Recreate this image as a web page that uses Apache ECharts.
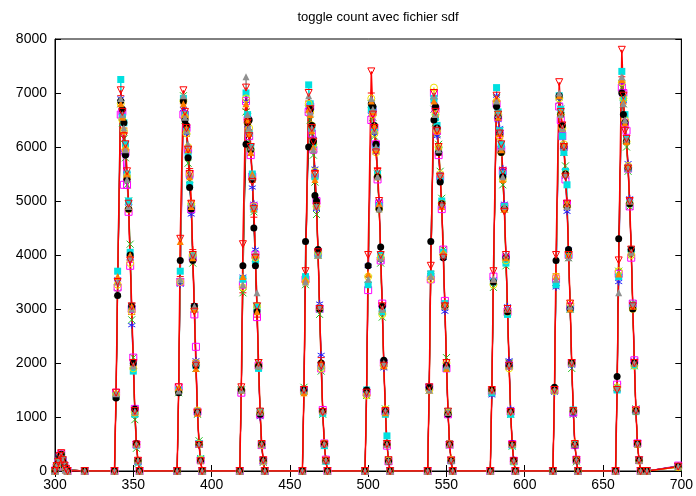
<!DOCTYPE html>
<html>
<head>
<meta charset="utf-8">
<script src="https://cdn.jsdelivr.net/npm/echarts@6/dist/echarts.min.js"></script>
<style>
  html, body { margin: 0; padding: 0; background: #fff; }
  #chart { width: 696px; height: 496px; }
</style>
</head>
<body>
<div id="chart"></div>
<script>
// x positions
const headX = [300, 301, 302, 303, 304, 305, 306, 307, 308, 319]
const peakStarts = [339, 379, 419, 459, 499, 539, 579, 619, 659]
const peakOffsets = [-1, 0, 1, 3, 4, 5, 6, 7, 8, 9, 10, 11, 12, 13, 14, 15]
const tailX = [678, 698]

// toggle counts, one block per run
const s1Head = [0, 90, 160, 260, 310, 190, 80, 30, 0, 0]
const s1Peaks = [
  [0,1400,3450,6950,6550,6350,5950,5400,4800,3900,2900,1950,1050,480,180,0],
  [0,1500,3600,6800,6650,6200,5900,5600,5000,4100,3100,2050,1150,520,210,0],
  [0,1550,3300,6700,6450,6250,6050,5350,4700,3800,2850,1900,1000,450,170,0],
  [0,1480,3550,6850,6700,6400,6000,5550,4950,4050,3050,2100,1150,540,220,0],
  [0,1420,3400,7000,6750,6350,6100,5600,4850,3950,2950,1950,1080,500,190,0],
  [0,1600,3700,6900,6500,6250,5850,5450,5000,4100,3000,2000,1100,470,170,0],
  [0,1500,3500,6750,6550,6150,5900,5500,4900,3900,2900,2050,1120,510,200,0],
  [0,1450,3650,6950,6600,6300,6050,5600,5000,4000,3100,2000,1150,530,220,0],
  [0,1500,3600,7300,6900,6500,6100,5650,5050,4100,3050,2050,1100,490,190,0]
]
const s1Tail = [0, 80]

const s2Head = [0, 60, 140, 230, 280, 170, 90, 20, 0, 0]
const s2Peaks = [
  [0,1380,3300,6800,6450,6150,5800,5300,5000,4200,2800,2100,950,420,140,0],
  [0,1450,3500,6950,6500,6300,5700,5400,4850,3850,3000,1900,1050,560,230,0],
  [0,1500,3300,6650,6550,6100,5900,5450,4800,3950,3050,2000,1100,480,160,0],
  [0,1550,3450,6700,6500,6250,5850,5350,4750,4000,2900,1850,1050,470,190,0],
  [0,1400,3550,6800,6550,6200,6000,5500,4900,3850,2850,1950,1150,500,180,0],
  [0,1500,3600,6700,6450,6250,6050,5550,5050,4100,3100,2100,1100,480,210,0],
  [0,1450,3400,6900,6600,6300,5950,5300,4850,3800,2950,2000,1050,460,190,0],
  [0,1500,3500,6850,6700,6200,5900,5650,4950,3950,3000,1900,1050,490,170,0],
  [0,1550,3700,7100,6800,6400,6000,5550,4900,4000,3100,1950,1150,510,200,0]
]
const s2Tail = [0, 70]

const s3Head = [0, 80, 150, 240, 300, 200, 70, 40, 0, 0]
const s3Peaks = [
  [0,1420,3550,6900,6600,5900,5850,5500,4950,3950,2700,1950,1100,510,190,0],
  [0,1480,3450,6700,6550,6250,5950,5450,4750,4000,3050,2050,1050,470,210,0],
  [0,1500,3600,6850,6400,6300,6000,5250,4950,4100,3000,1900,1000,460,170,0],
  [0,1450,3500,6750,6650,6400,6150,5600,4850,4000,3100,2150,1100,520,220,0],
  [0,1500,3800,6600,6700,6250,5900,5450,5000,3900,3000,1900,1100,490,180,0],
  [0,1550,3600,6850,6550,6200,5950,5500,4900,3950,2950,1950,1050,500,190,0],
  [0,1400,3550,6950,6500,6350,6000,5600,4950,4000,3050,2050,1150,480,200,0],
  [0,1450,3400,6900,6600,6250,6050,5450,4800,4100,3000,1950,1050,470,180,0],
  [0,1500,3500,7200,6850,6450,6150,5700,5050,4050,3100,2050,1100,500,210,0]
]
const s3Tail = [0, 90]

const s4Head = [10, 70, 170, 270, 320, 180, 100, 30, 0, 0]
const s4Peaks = [
  [0,1450,3400,6600,6650,5300,5900,5300,4800,3800,3000,2100,1150,490,180,0],
  [0,1550,3500,6600,6600,6350,5950,5500,4850,3950,2900,2300,1100,500,200,0],
  [0,1450,3450,6850,6500,6200,5850,5450,4900,4000,2850,1950,1050,480,190,0],
  [0,1500,3550,6650,6750,6250,5950,5500,5000,4050,3000,1900,1130,510,210,0],
  [0,1450,3350,6500,6650,6350,6050,5400,4950,3900,3100,2000,1100,470,180,0],
  [0,1550,3550,7000,6700,6300,5850,5450,4850,4100,3150,1900,1050,490,200,0],
  [0,1480,3600,6800,6550,6250,5950,5550,4900,3950,2950,1950,1100,500,190,0],
  [0,1500,3550,6750,6500,6200,6000,5400,4950,4000,3050,2000,1080,480,210,0],
  [0,1600,3650,7100,7000,6450,6300,5600,4900,3950,3100,2050,1130,510,200,0]
]
const s4Tail = [0, 100]

const s5Head = [0, 100, 180, 250, 290, 210, 90, 20, 0, 0]
const s5Peaks = [
  [0,1400,3700,7250,6550,6450,6050,5500,5000,4050,3050,1850,1050,480,170,0],
  [0,1500,3700,6900,6600,6300,5850,5300,4900,4000,3000,1950,1100,510,220,0],
  [0,1500,3550,7000,6600,6250,6000,5500,4850,3900,3050,1900,1100,490,190,0],
  [0,1480,3600,7150,6800,6350,6050,5450,4950,4000,3000,1950,1070,470,180,0],
  [0,1500,3450,6700,6700,6350,6000,5500,4900,4000,2950,2000,1050,650,200,0],
  [0,1550,3650,6900,6550,6400,5950,5400,5000,4050,3100,1900,1100,500,190,0],
  [0,1450,3500,7100,6650,6300,6050,5500,4900,3850,2900,1950,1050,470,170,0],
  [0,1500,3450,6950,6700,6200,5900,5550,5300,4000,3000,2000,1130,490,210,0],
  [0,1500,3600,7400,6900,6600,6150,5600,4950,4100,3050,1950,1100,500,200,0]
]
const s5Tail = [0, 80]

const s6Head = [0, 80, 130, 220, 300, 160, 80, 30, 0, 0]
const s6Peaks = [
  [0,1420,3450,6800,6500,6300,5950,5450,4850,3850,2950,1900,1080,490,190,0],
  [0,1470,3500,6850,6550,6250,6000,5500,4950,4000,3000,2000,1120,500,210,0],
  [0,1500,3400,6900,6450,6350,5950,5400,4900,3950,3050,1950,1070,480,180,0],
  [0,1450,3500,6800,6650,6400,6050,5550,4900,4050,3000,1900,1100,510,200,0],
  [0,1400,3600,6900,6600,6250,5900,5450,4850,3950,2900,1950,1140,490,190,0],
  [0,1500,3550,7100,6600,6300,6000,5500,4950,4000,3050,2000,1080,500,210,0],
  [0,1500,3450,6850,6600,6200,5900,5400,4850,3900,2950,1900,1100,480,180,0],
  [0,1480,3600,6900,6600,6350,6050,5500,4900,4050,3100,2000,1110,510,200,0],
  [0,1550,3700,7200,6900,6500,6100,5650,4950,4000,3000,1950,1130,500,190,0]
]
const s6Tail = [0, 70]

const s7Head = [0, 70, 150, 260, 310, 180, 90, 30, 0, 0]
const s7Peaks = [
  [0,1350,3250,6850,6700,6450,5850,5400,4850,4000,3050,2000,1150,510,190,0],
  [0,1450,3900,6850,6500,6400,5800,5250,4850,3900,3050,1950,1090,490,190,0],
  [0,1500,3800,6050,6450,6500,5950,5400,4500,3800,2950,1950,1050,490,200,0],
  [0,1500,4250,6000,6700,6400,6100,5100,5000,4100,3000,2000,1110,500,190,0],
  [0,1500,3800,6800,6750,6400,6050,5450,4850,4150,3050,2050,1100,490,180,0],
  [0,1550,4250,6500,6750,6350,5900,5350,4950,3950,3050,1950,1050,490,190,0],
  [0,1500,3500,6750,6550,6250,5900,5450,4850,3950,2950,1950,1110,500,200,0],
  [0,1550,3900,6950,6600,6400,6000,5500,4900,4100,3000,2000,1100,480,190,0],
  [0,1750,4300,7000,6600,6450,6100,5600,4950,4100,3000,2000,1110,500,200,0]
]
const s7Tail = [0, 90]

const s8Head = [0, 90, 140, 230, 290, 200, 80, 20, 0, 0]
const s8Peaks = [
  [0,1450,3600,6800,6550,6300,6000,5500,4900,4000,3050,1950,1090,500,200,0],
  [0,1550,4250,6800,6600,6350,5950,5450,4900,3950,3000,1900,1070,490,190,0],
  [0,1500,3600,6800,6500,6250,5900,5500,4850,4000,2950,1950,1100,500,200,0],
  [0,1450,3550,6700,6600,6300,6000,5400,4900,4000,3050,2000,1110,510,210,0],
  [0,1450,3650,6850,6650,6400,5950,5450,4950,3950,3000,1950,1080,490,190,0],
  [0,1500,3600,6850,6600,6300,6000,5500,4900,4050,3100,1900,1090,500,200,0],
  [0,1500,3550,6900,6550,6250,5950,5400,4850,3950,3000,1950,1100,490,190,0],
  [0,1500,3600,6950,6650,6350,6050,5500,4950,4000,3000,2000,1120,500,200,0],
  [0,1550,3650,7250,6850,6450,6100,5650,5000,4050,3050,2000,1110,500,200,0]
]
const s8Tail = [0, 80]

const s9Head = [0, 80, 160, 250, 300, 190, 90, 30, 0, 0]
const s9Peaks = [
  [0,1430,3500,6900,6600,6350,5950,5400,4900,3950,3000,1950,1100,490,190,0],
  [0,1480,3550,6950,6550,6300,6050,5500,4950,4000,3050,2000,1110,500,200,0],
  [0,1500,3450,7300,6600,6350,6000,5450,4900,4050,3300,1950,1090,490,190,0],
  [0,1500,3500,6950,6650,6350,5950,5500,4900,4000,3050,1950,1100,500,200,0],
  [0,1450,3550,6900,6700,6300,6000,5450,4850,3950,3000,2000,1110,490,190,0],
  [0,1500,3600,6950,6600,6350,5950,5500,4950,4000,3050,1950,1090,500,200,0],
  [0,1480,3550,6850,6600,6300,6000,5450,4900,4000,3000,1950,1100,490,190,0],
  [0,1500,3550,7000,6600,6350,6000,5500,4900,3950,3050,2000,1110,500,200,0],
  [0,1550,3300,7300,6800,6500,6150,5600,5000,4050,3100,2000,1120,510,200,0]
]
const s9Tail = [0, 90]

const s10Head = [0, 90, 170, 280, 330, 200, 100, 40, 0, 0]
const s10Peaks = [
  [0,1450,3500,7050,6650,6200,6050,5550,4950,3900,3050,2000,1110,490,190,0],
  [0,1550,4300,7050,6650,6350,5950,5500,4950,4000,2950,1950,1080,480,180,0],
  [0,1550,4200,7100,6450,6200,6000,5350,4850,3950,3050,2000,1100,500,200,0],
  [0,1500,3700,7000,6700,6350,6100,5500,4900,4050,3000,1950,1090,490,190,0],
  [0,1450,4000,7400,6600,6350,5900,5550,5000,4000,3050,1950,1110,500,200,0],
  [0,1550,3800,7000,6650,6300,6000,5450,4900,3950,3050,2000,1100,490,190,0],
  [0,1500,3700,6950,6600,6250,6050,5550,4800,4000,3000,1950,1090,480,180,0],
  [0,1500,4000,7200,6650,6400,6000,5450,4950,4000,3100,2000,1110,500,200,0],
  [0,1500,3900,7800,6950,6300,6150,5600,5000,4100,3050,2000,1120,500,200,0]
]
const s10Tail = [0, 80]

const xTicks = [300, 350, 400, 450, 500, 550, 600, 650, 700]
const yTicks = [0, 1000, 2000, 3000, 4000, 5000, 6000, 7000, 8000]

const runs = [
  [s1Head, s1Peaks, s1Tail],
  [s2Head, s2Peaks, s2Tail],
  [s3Head, s3Peaks, s3Tail],
  [s4Head, s4Peaks, s4Tail],
  [s5Head, s5Peaks, s5Tail],
  [s6Head, s6Peaks, s6Tail],
  [s7Head, s7Peaks, s7Tail],
  [s8Head, s8Peaks, s8Tail],
  [s9Head, s9Peaks, s9Tail],
  [s10Head, s10Peaks, s10Tail]
]

// gnuplot-like point styles
const plusPath = 'path://M0,5L10,5M5,0L5,10'
const crossPath = 'path://M0,0L10,10M10,0L0,10'
const starPath = 'path://M5,0L5,10M0,2.5L10,7.5M10,2.5L0,7.5'
const downTriPath = 'path://M0,0L10,0L5,8.66Z'

const styles = [
  { color: '#ff0000', symbol: plusPath, open: true },
  { color: '#20c020', symbol: crossPath, open: true },
  { color: '#2020ff', symbol: starPath, open: true },
  { color: '#ff00ff', symbol: 'rect', open: true },
  { color: '#00e0e0', symbol: 'rect', open: false },
  { color: '#f0e000', symbol: 'circle', open: true },
  { color: '#000000', symbol: 'circle', open: false },
  { color: '#ff7f00', symbol: 'triangle', open: false },
  { color: '#909090', symbol: 'triangle', open: false },
  { color: '#ff0000', symbol: downTriPath, open: true }
]

const buildData = (head, peaks, tail) => {
  const pts = headX.map((x, i) => [x, head[i]])
  peaks.forEach((row, k) => {
    row.forEach((y, j) => pts.push([peakStarts[k] + peakOffsets[j], y]))
  })
  tailX.forEach((x, i) => pts.push([x, tail[i]]))
  return pts
}

const series = runs.map(([head, peaks, tail], i) => {
  const st = styles[i]
  return {
    type: 'line',
    data: buildData(head, peaks, tail),
    symbol: st.symbol,
    symbolSize: 7,
    showAllSymbol: true,
    lineStyle: { color: st.color, width: i === runs.length - 1 ? 1.5 : 1 },
    itemStyle: st.open
      ? { color: 'rgba(0,0,0,0)', borderColor: st.color, borderWidth: 1 }
      : { color: st.color, borderWidth: 0 },
    emphasis: { disabled: true },
    animation: false
  }
})

const axisFont = { color: '#000', fontSize: 14, fontFamily: 'Liberation Sans' }
const frameLine = { show: true, lineStyle: { color: '#000', width: 1 } }
const tickInside = { show: true, inside: true, length: 6, lineStyle: { color: '#000' } }

const chart = echarts.init(document.getElementById('chart'))
chart.setOption({
  backgroundColor: '#fff',
  animation: false,
  title: {
    text: 'toggle count avec fichier sdf',
    left: 373,
    top: 6,
    textAlign: 'center',
    textStyle: { fontSize: 13, fontWeight: 'normal', color: '#000', fontFamily: 'Liberation Sans' }
  },
  grid: { left: 55, right: 8, top: 39, bottom: 25, show: true, borderColor: '#000', borderWidth: 1 },
  xAxis: [
    {
      type: 'value', min: xTicks[0], max: xTicks[xTicks.length - 1], interval: 50,
      axisLine: frameLine, axisTick: tickInside, splitLine: { show: false },
      axisLabel: { ...axisFont, margin: 7, formatter: (v) => String(v) }
    },
    {
      type: 'value', position: 'top', min: xTicks[0], max: xTicks[xTicks.length - 1], interval: 50,
      axisLine: frameLine, axisTick: tickInside, splitLine: { show: false },
      axisLabel: { show: false }
    }
  ],
  yAxis: [
    {
      type: 'value', min: yTicks[0], max: yTicks[yTicks.length - 1], interval: 1000,
      axisLine: frameLine, axisTick: tickInside, splitLine: { show: false },
      axisLabel: { ...axisFont, margin: 8, formatter: (v) => String(v) }
    },
    {
      type: 'value', position: 'right', min: yTicks[0], max: yTicks[yTicks.length - 1], interval: 1000,
      axisLine: frameLine, axisTick: tickInside, splitLine: { show: false },
      axisLabel: { show: false }
    }
  ],
  series: series
})
</script>
</body>
</html>
